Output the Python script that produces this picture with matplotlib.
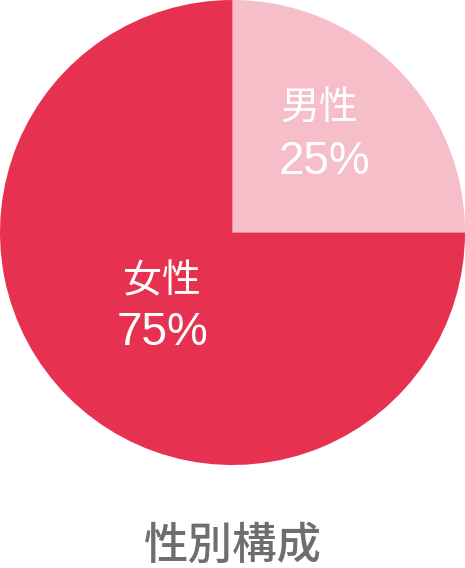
import matplotlib
matplotlib.use("Agg")
import matplotlib.pyplot as plt

plt.rcParams['font.family'] = ['Noto Sans CJK JP', 'DejaVu Sans']

# Data
labels = ["男性", "女性"]
shares = [25, 75]
colors = ["#F5BEC8", "#E73150"]
title = "性別構成"

fig = plt.figure(figsize=(4.65, 5.68), dpi=100)
ax = fig.add_axes([0, 1 - 465 / 568, 1, 465 / 568])
ax.pie(shares, colors=colors, startangle=90, counterclock=False,
       radius=1, wedgeprops=dict(linewidth=0))
ax.set_xlim(-1, 1)
ax.set_ylim(-1, 1)
ax.set_aspect("equal")
ax.axis("off")

# label positions (name, percent) per slice
label_pos = [((0.372, 0.538), (0.394, 0.305)),
             ((-0.303, -0.209), (-0.303, -0.432))]
for name, val, (p1, p2) in zip(labels, shares, label_pos):
    ax.text(p1[0], p1[1], name, color="white", fontsize=28,
            ha="center", va="center")
    ax.text(p2[0], p2[1], f"{val}%", color="white", fontsize=33,
            family=["Liberation Sans"], ha="center", va="center")

fig.text(0.5, 1 - 546 / 568, title, color="#6E6E6E", fontsize=32,
         fontweight="medium", ha="center", va="center")

fig.savefig("out.png", dpi=100, facecolor="white")
